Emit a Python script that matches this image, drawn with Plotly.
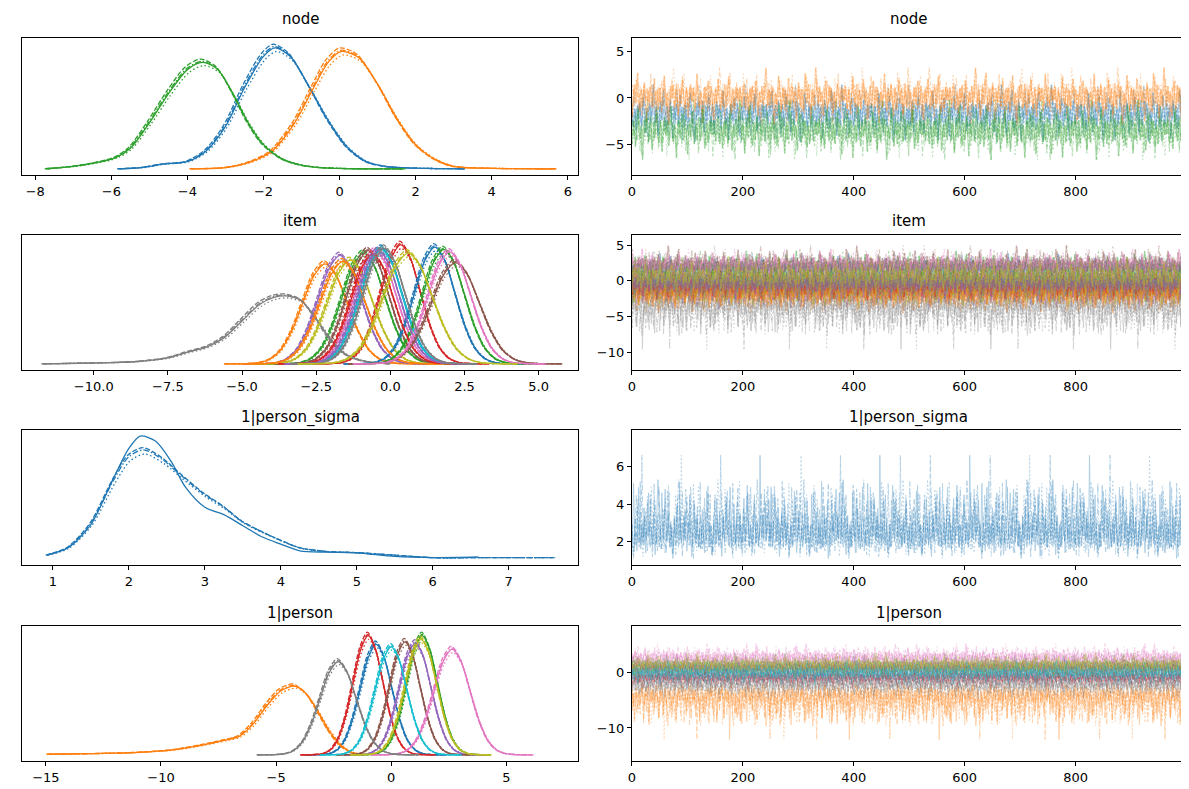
import plotly.graph_objects as go

# ---------------- data (read / estimated from the reference) ----------------
PANEL_TITLES = ["node", "item", "1|person_sigma", "1|person"]

TAB10 = ["#1f77b4", "#ff7f0e", "#2ca02c", "#d62728", "#9467bd",
         "#8c564b", "#e377c2", "#7f7f7f", "#bcbd22", "#17becf"]

# node: three variables, KDE curves
NODE_MEAN = [-1.8, 0.05, -3.6]
NODE_SD = [0.95, 0.95, 1.0]
NODE_KDE_X = [
    [-5.8, -5.2, -4.6, -4.0, -3.5, -3.0, -2.5, -2.0, -1.7, -1.3, -0.8, -0.3, 0.2, 0.7, 1.2, 2.0, 3.3],
    [-3.9, -3.0, -2.4, -1.8, -1.2, -0.7, -0.3, 0.05, 0.5, 1.0, 1.5, 2.0, 2.5, 3.0, 4.0, 5.7],
    [-7.7, -7.0, -6.4, -5.9, -5.5, -5.0, -4.5, -4.0, -3.6, -3.2, -2.8, -2.4, -2.0, -1.5, -1.0, -0.5, 0.5, 1.7],
]
NODE_KDE_Y = [
    [0.0, 0.01, 0.04, 0.06, 0.15, 0.35, 0.67, 0.93, 1.0, 0.93, 0.68, 0.4, 0.18, 0.06, 0.02, 0.005, 0.0],
    [0.0, 0.01, 0.05, 0.14, 0.37, 0.66, 0.88, 0.97, 0.92, 0.7, 0.42, 0.2, 0.08, 0.02, 0.004, 0.0],
    [0.0, 0.02, 0.05, 0.09, 0.17, 0.38, 0.62, 0.82, 0.88, 0.82, 0.62, 0.38, 0.2, 0.08, 0.03, 0.01, 0.0, 0.0],
]

# item: 19 variables (location, spread, relative peak height)
ITEM_MEAN = [-0.3, -2.2, -0.9, 0.35, -1.7, -0.75, -0.5, -3.6, -1.35, -0.3,
             1.5, -1.6, 1.8, -0.6, -0.4, 2.2, 2.0, -0.2, 0.6]
ITEM_SD = [0.7, 0.75, 0.72, 0.66, 0.72, 0.7, 0.7, 1.4, 0.75, 0.7,
           0.68, 0.75, 0.7, 0.7, 0.7, 0.8, 0.72, 0.7, 0.82]
ITEM_PEAK = [0.97, 0.84, 0.93, 1.0, 0.91, 0.95, 0.95, 0.57, 0.87, 0.96,
             0.98, 0.86, 0.96, 0.92, 0.95, 0.85, 0.94, 0.97, 0.93]
ITEM_WIDE_INDEX = 7
ITEM_WIDE_X = [-11.7, -10.5, -9.5, -8.5, -7.5, -6.8, -6.2, -5.6, -5.0, -4.4, -3.9, -3.5,
               -3.0, -2.5, -2.0, -1.5, -1.0, -0.5, 0.0]
ITEM_WIDE_Y = [0.0, 0.005, 0.01, 0.02, 0.05, 0.1, 0.14, 0.22, 0.36, 0.5, 0.56, 0.57,
               0.53, 0.38, 0.2, 0.08, 0.03, 0.01, 0.0]

# 1|person_sigma KDE (solid chain, other chains)
SIGMA_KDE_X_A = [0.92, 1.2, 1.5, 1.8, 2.0, 2.15, 2.35, 2.55, 2.75, 3.0, 3.25, 3.5, 3.75,
                 4.0, 4.25, 4.6, 5.0, 5.5, 6.0, 6.6]
SIGMA_KDE_Y_A = [0.03, 0.09, 0.28, 0.66, 0.9, 1.0, 0.96, 0.8, 0.58, 0.42, 0.36, 0.27, 0.18,
                 0.12, 0.065, 0.055, 0.05, 0.02, 0.01, 0.015]
SIGMA_KDE_X_B = [0.92, 1.2, 1.5, 1.8, 2.0, 2.2, 2.45, 2.7, 3.0, 3.25, 3.5, 3.75, 4.0,
                 4.25, 4.6, 5.0, 5.5, 6.0, 6.6, 7.6]
SIGMA_KDE_Y_B = [0.03, 0.09, 0.28, 0.63, 0.82, 0.88, 0.8, 0.67, 0.52, 0.42, 0.3, 0.22, 0.15,
                 0.09, 0.06, 0.05, 0.03, 0.01, 0.01, 0.01]

# 1|person: 10 variables
PERSON_MEAN = [-0.65, -4.5, 1.35, -1.0, 1.05, 0.6, 2.65, -2.3, 1.3, 0.0]
PERSON_SD = [0.68, 1.6, 0.66, 0.65, 0.68, 0.66, 0.78, 0.78, 0.68, 0.68]
PERSON_PEAK = [0.9, 0.56, 0.97, 0.97, 0.91, 0.92, 0.86, 0.76, 0.94, 0.88]
PERSON_WIDE_INDEX = 1
PERSON_WIDE_X = [-14.9, -13.0, -11.0, -9.5, -8.2, -7.2, -6.6, -6.0, -5.4, -4.8, -4.2, -3.7,
                 -3.2, -2.7, -2.2, -1.7, -1.2]
PERSON_WIDE_Y = [0.005, 0.01, 0.02, 0.04, 0.08, 0.12, 0.15, 0.25, 0.4, 0.52, 0.56, 0.5,
                 0.36, 0.2, 0.08, 0.02, 0.005]

# standardised bell profile used for the near-symmetric KDEs (offsets in sd units)
PROFILE_OFFSET = [-4.5, -3.5, -3.0, -2.5, -2.0, -1.5, -1.0, -0.5, 0.0, 0.5, 1.0, 1.5, 2.0, 2.5, 3.0, 3.5, 4.5]
PROFILE_VALUE = [0.0, 0.003, 0.011, 0.044, 0.135, 0.325, 0.607, 0.882, 1.0, 0.882, 0.607, 0.325,
                 0.135, 0.044, 0.011, 0.003, 0.0]

# small per-chain differences of the KDEs
CHAIN_DX = [0.0, -0.05, 0.04, -0.02]
CHAIN_H = [1.0, 1.03, 0.97, 1.01]

# standardised draws (estimated wiggle of the traces)
Z_DRAWS = [
    0.3, -0.4, 0.8, 1.2, 0.5, -0.2, -1.1, -0.6, 0.2, 1.0, 1.6, 0.7, -0.3, -1.4, -0.9, 0.1, 0.6, -0.2, -1.8, -1.0, 0.4, 1.1, 0.3, -0.5, 0.9,
    1.4, 0.6, -0.7, -1.3, -0.2, 0.5, 1.9, 1.2, 0.1, -0.8, -2.1, -1.2, 0.0, 0.7, 0.2, -0.6, 0.4, 1.3, 0.8, -0.1, -1.0, -0.4, 0.6, 2.3, 3.4,
    2.6, 1.1, -0.3, -0.9, 0.2, 0.9, 0.1, -1.2, -2.4, -1.5, -0.3, 0.8, 1.5, 0.6, -0.2, -0.7, 0.3, 1.2, 2.8, 1.4, 0.2, -0.5, -1.6, -0.8, 0.4,
    1.0, 0.3, -0.9, -0.1, 0.7, 1.7, 0.9, -0.4, -1.9, -2.7, -1.3, 0.2, 0.8, 0.1, -0.6, 0.5, 1.3, 0.4, -0.3, -1.1, -0.5, 0.6, 1.4, 2.2, 1.0,
    -0.2, -0.8, 0.3, 0.9, 0.2, -1.4, -0.7, 0.4, 1.1, 0.5, -0.6, -1.7, -1.0, 0.1, 0.8, 1.8, 2.5, 1.2, 0.0, -0.9, -0.3, 0.5, -0.4, -1.5, -3.1,
    -1.6, -0.2, 0.7, 1.3, 0.6, -0.1, 0.4, 1.5, 0.8, -0.5, -1.2, -0.3, 0.9, 1.6, 0.7, -0.4, -2.0, -1.1, 0.2, 1.0, 0.3, -0.7, -0.1, 0.8, 2.0,
    1.1, 0.2, -0.6, -1.3, -0.4, 0.5, 1.2, 0.6, -0.8, -2.2, -1.4, -0.2, 0.6, 1.4, 0.9, 0.0, -0.5, 0.3, 1.1, 0.4, -0.9, -1.6, -0.6, 0.4, 1.7,
    2.7, 1.5, 0.3, -0.4, -1.1, -0.2, 0.7, 0.1, -0.7, -1.8, -2.9, -1.5, -0.3, 0.5, 1.2, 0.6, -0.1, -0.8, 0.2, 1.0, 1.9, 0.8, -0.2, -1.0, -0.4,
    0.6, 1.3, 0.5, -0.3, -1.2, -2.5, -1.3, 0.1, 0.9, 0.4, -0.6, 0.2, 1.1, 2.1, 1.2, 0.3, -0.5, -1.4, -0.7, 0.3, 0.8, -0.1, -1.0, -0.2, 0.7,
    1.5, 0.7, -0.4, -1.1, -0.3, 0.6, 1.4, 2.4, 1.3, 0.1, -0.8, -1.9, -1.0, 0.0, 0.9, 0.3, -0.5, -1.3, -0.6, 0.5, 1.2, 0.4, -0.3, 0.6, 1.0,
]

# 1|person_sigma draws (right-skewed)
SIGMA_DRAWS = [
    2.6, 3.1, 4.2, 2.8, 2.0, 1.7, 2.3, 3.5, 5.1, 3.0, 2.2, 1.8, 2.5, 2.1, 1.5, 2.4, 3.3, 4.9, 3.6, 2.7, 2.0, 1.6, 2.2, 2.9, 2.4,
    1.9, 2.6, 3.8, 2.5, 1.8, 1.4, 2.1, 2.7, 2.3, 3.0, 4.6, 2.9, 2.2, 1.7, 2.0, 2.8, 2.4, 1.9, 2.6, 3.4, 2.5, 2.0, 1.3, 1.8, 2.5,
    3.2, 4.0, 5.3, 4.7, 3.4, 2.6, 2.1, 2.9, 3.7, 4.6, 3.8, 2.7, 2.2, 3.0, 4.4, 4.8, 3.6, 2.5, 2.0, 2.7, 3.5, 2.8, 2.2, 1.8, 2.4,
    3.1, 2.6, 2.0, 1.6, 1.1, 1.9, 2.5, 3.3, 2.7, 2.2, 2.9, 3.9, 2.8, 2.1, 1.7, 2.3, 5.2, 3.2, 2.4, 1.9, 2.6, 3.0, 2.3, 1.8, 2.2,
    2.9, 3.6, 2.6, 2.0, 1.5, 1.9, 2.4, 3.1, 2.5, 4.5, 3.0, 2.3, 1.8, 1.2, 1.7, 2.4, 2.8, 4.2, 2.9, 2.2, 1.9, 2.5, 3.4, 2.6, 2.0,
    1.7, 2.2, 2.7, 2.1, 1.6, 2.0, 2.6, 3.7, 2.8, 2.2, 1.8, 1.4, 2.0, 2.5, 3.2, 4.7, 3.4, 2.5, 2.0, 1.7, 2.3, 2.9, 2.4, 1.9, 1.3,
    1.6, 2.1, 2.6, 3.0, 2.4, 1.8, 2.2, 3.1, 4.3, 3.3, 2.6, 2.1, 2.8, 3.6, 2.7, 2.1, 1.6, 1.2, 1.9, 2.6, 3.3, 2.5, 2.0, 2.7, 3.8,
    4.4, 3.5, 2.7, 2.2, 1.8, 2.4, 3.0, 4.9, 3.7, 2.8, 2.2, 1.8, 2.3, 2.9, 4.0, 3.1, 2.4, 1.9, 2.5, 3.2, 2.6, 2.1, 1.7, 2.2, 2.8,
    3.4, 2.6, 2.0, 1.6, 2.1, 2.7, 3.5, 4.3, 3.2, 2.5, 2.0, 2.6, 3.3, 5.0, 3.5, 2.6, 2.1, 1.7, 2.2, 2.9, 2.4, 1.9, 1.4, 2.0, 2.6,
    3.3, 4.5, 3.1, 2.4, 1.9, 2.5, 3.0, 2.3, 1.8, 2.4, 3.2, 6.6, 3.9, 2.8, 2.2, 2.7, 3.4, 2.6, 2.1, 2.5, 3.1, 4.1, 2.9, 2.3, 2.7,
]
SIGMA_CENTER = 2.6
WIDE_SCALE_ITEM = 1.5
WIDE_SCALE_PERSON = 1.9

N_DRAWS_TOTAL = 1000

# tick labels
KDE_TICKS = [
    [-8, -6, -4, -2, 0, 2, 4, 6],
    [-10, -7.5, -5, -2.5, 0, 2.5, 5],
    [1, 2, 3, 4, 5, 6, 7],
    [-15, -10, -5, 0, 5],
]
KDE_TICKTEXT = [
    ["\u22128", "\u22126", "\u22124", "\u22122", "0", "2", "4", "6"],
    ["\u221210.0", "\u22127.5", "\u22125.0", "\u22122.5", "0.0", "2.5", "5.0"],
    ["1", "2", "3", "4", "5", "6", "7"],
    ["\u221215", "\u221210", "\u22125", "0", "5"],
]
TRACE_YTICKS = [[-5, 0, 5], [-10, -5, 0, 5], [2, 4, 6], [-10, 0]]
TRACE_YTEXT = [["\u22125", "0", "5"], ["\u221210", "\u22125", "0", "5"], ["2", "4", "6"], ["\u221210", "0"]]
DRAW_TICKS = [0, 200, 400, 600, 800]

# axis ranges (as in the reference)
KDE_XRANGE = [[-8.35, 6.27], [-12.42, 6.33], [0.593, 7.913], [-16.04, 8.12]]
TRACE_YRANGE = [[-8.35, 6.5], [-12.5, 6.4], [0.75, 7.95], [-16.0, 8.5]]

# ---------------- styling ----------------
CHAIN_DASHES = ["solid", "5px,2px", "1.5px,2.5px", "6px,2px,1.5px,2px"]
W, H = 1189, 789
ROWS_PX = [(30, 167), (227, 362), (422, 557), (618, 753)]
TITLE_PX = [11, 213, 409, 605]
LEFT_PX = (10, 568)
RIGHT_PX = (622, 1178)
FONT = "DejaVu Sans"


def rot(seq, k):
    k %= len(seq)
    return seq[k:] + seq[:k]


def chain_draws(base, k):
    # a chain of N_DRAWS_TOTAL draws assembled from the typed draw list
    out = []
    j = 0
    while len(out) < N_DRAWS_TOTAL:
        seg = base if j % 2 == 0 else base[::-1]
        out += rot(seg, k + j * 61)
        j += 1
    return out[:N_DRAWS_TOTAL]


fig = go.Figure()
kde_ymax = [0.0, 0.0, 0.0, 0.0]


def axis_ids(i):
    return ("x" if i == 1 else f"x{i}"), ("y" if i == 1 else f"y{i}")


def add_kde(row, xs, ys, color, chain):
    xa, ya = axis_ids(2 * row + 1)
    kde_ymax[row] = max(kde_ymax[row], max(ys))
    fig.add_trace(go.Scatter(
        x=xs, y=ys, mode="lines", xaxis=xa, yaxis=ya,
        line=dict(color=color, width=1.3, dash=CHAIN_DASHES[chain], shape="spline", smoothing=0.8),
        hoverinfo="skip"))


def add_trace(row, vals, color, chain):
    xa, ya = axis_ids(2 * row + 2)
    xs = list(range(len(vals)))
    fig.add_trace(go.Scatter(
        x=xs, y=vals, mode="lines", xaxis=xa, yaxis=ya, opacity=0.36,
        line=dict(color=color, width=0.9, dash=CHAIN_DASHES[chain]),
        hoverinfo="skip"))


def std_kde(row, mean, sd, peak, color):
    for c in range(4):
        xs = [mean + sd * (o + CHAIN_DX[c]) for o in PROFILE_OFFSET]
        ys = [peak * CHAIN_H[c] * v for v in PROFILE_VALUE]
        add_kde(row, xs, ys, color, c)


def explicit_kde(row, bx, by, sd, color):
    for c in range(4):
        xs = [x + sd * CHAIN_DX[c] for x in bx]
        ys = [y * CHAIN_H[c] for y in by]
        add_kde(row, xs, ys, color, c)


# ---- row 0: node ----
for v in range(len(NODE_MEAN)):
    explicit_kde(0, NODE_KDE_X[v], NODE_KDE_Y[v], NODE_SD[v], TAB10[v % 10])
for v in range(len(NODE_MEAN)):
    for c in range(4):
        z = chain_draws(Z_DRAWS, v * 47 + c * 83 + 11)
        add_trace(0, [NODE_MEAN[v] + NODE_SD[v] * q for q in z], TAB10[v % 10], c)

# ---- row 1: item ----
for v in range(len(ITEM_MEAN)):
    col = TAB10[v % 10]
    if v == ITEM_WIDE_INDEX:
        explicit_kde(1, ITEM_WIDE_X, ITEM_WIDE_Y, ITEM_SD[v], col)
    else:
        std_kde(1, ITEM_MEAN[v], ITEM_SD[v], ITEM_PEAK[v], col)
for v in range(len(ITEM_MEAN)):
    col = TAB10[v % 10]
    for c in range(4):
        if v == ITEM_WIDE_INDEX:
            s = chain_draws(SIGMA_DRAWS, v * 31 + c * 67)
            vals = [ITEM_MEAN[v] - WIDE_SCALE_ITEM * (q - SIGMA_CENTER) for q in s]
        else:
            z = chain_draws(Z_DRAWS, v * 47 + c * 83 + 29)
            vals = [ITEM_MEAN[v] + ITEM_SD[v] * q for q in z]
        add_trace(1, vals, col, c)

# ---- row 2: 1|person_sigma ----
for c in range(4):
    if c == 0:
        add_kde(2, SIGMA_KDE_X_A, SIGMA_KDE_Y_A, TAB10[0], c)
    else:
        xs = [x + 0.3 * CHAIN_DX[c] for x in SIGMA_KDE_X_B]
        ys = [y * CHAIN_H[c] for y in SIGMA_KDE_Y_B]
        add_kde(2, xs, ys, TAB10[0], c)
for c in range(4):
    add_trace(2, chain_draws(SIGMA_DRAWS, c * 71 + 5), TAB10[0], c)

# ---- row 3: 1|person ----
for v in range(len(PERSON_MEAN)):
    col = TAB10[v % 10]
    if v == PERSON_WIDE_INDEX:
        explicit_kde(3, PERSON_WIDE_X, PERSON_WIDE_Y, PERSON_SD[v], col)
    else:
        std_kde(3, PERSON_MEAN[v], PERSON_SD[v], PERSON_PEAK[v], col)
for v in range(len(PERSON_MEAN)):
    col = TAB10[v % 10]
    for c in range(4):
        if v == PERSON_WIDE_INDEX:
            s = chain_draws(SIGMA_DRAWS, v * 43 + c * 59 + 17)
            vals = [PERSON_MEAN[v] - WIDE_SCALE_PERSON * (q - SIGMA_CENTER) for q in s]
        else:
            z = chain_draws(Z_DRAWS, v * 53 + c * 89 + 7)
            vals = [PERSON_MEAN[v] + PERSON_SD[v] * q for q in z]
        add_trace(3, vals, col, c)

# ---------------- layout ----------------
layout = dict(
    width=W, height=H, margin=dict(l=0, r=0, t=0, b=0),
    paper_bgcolor="white", plot_bgcolor="white", showlegend=False,
    font=dict(family=FONT, size=13, color="black"),
)
annotations = []
for r in range(4):
    top, bot = ROWS_PX[r]
    yd = [1 - bot / H, 1 - top / H]
    for side in range(2):
        i = 2 * r + side + 1
        xa, ya = axis_ids(i)
        px = LEFT_PX if side == 0 else RIGHT_PX
        xd = [px[0] / W, px[1] / W]
        common = dict(showline=True, mirror=True, linecolor="black", linewidth=1,
                      showgrid=False, zeroline=False, tickcolor="black", ticklen=4,
                      tickwidth=1, tickfont=dict(family=FONT, size=13, color="black"))
        xaxis = dict(domain=xd, anchor=ya, ticks="outside", **common)
        yaxis = dict(domain=yd, anchor=xa, **common)
        if side == 0:
            xaxis.update(range=KDE_XRANGE[r], tickmode="array",
                         tickvals=KDE_TICKS[r], ticktext=KDE_TICKTEXT[r])
            ym = kde_ymax[r]
            yaxis.update(range=[-0.05 * ym, 1.05 * ym], showticklabels=False, ticks="")
        else:
            xaxis.update(range=[0, N_DRAWS_TOTAL - 1], tickmode="array",
                         tickvals=DRAW_TICKS, ticktext=[str(t) for t in DRAW_TICKS])
            yaxis.update(range=TRACE_YRANGE[r], ticks="outside", tickmode="array",
                         tickvals=TRACE_YTICKS[r], ticktext=TRACE_YTEXT[r])
        layout["xaxis" if i == 1 else f"xaxis{i}"] = xaxis
        layout["yaxis" if i == 1 else f"yaxis{i}"] = yaxis
        annotations.append(dict(
            text=PANEL_TITLES[r], x=(xd[0] + xd[1]) / 2, y=1 - TITLE_PX[r] / H,
            xref="paper", yref="paper", showarrow=False, xanchor="center", yanchor="middle",
            font=dict(family=FONT, size=15, color="black")))
layout["annotations"] = annotations
fig.update_layout(**layout)

fig.write_html("out.html")
